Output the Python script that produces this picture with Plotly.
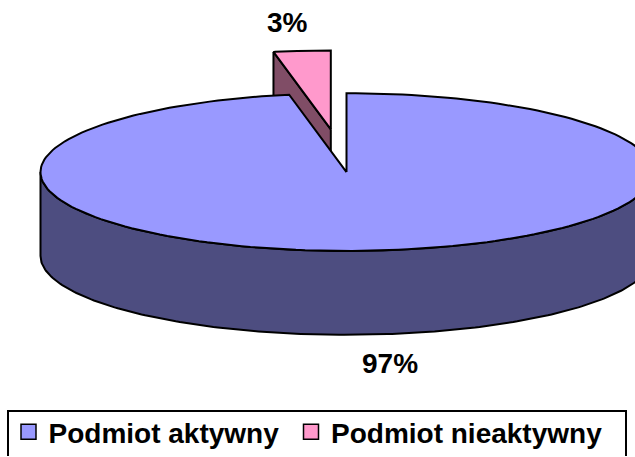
import numpy as np
import plotly.graph_objects as go

# ---- data ----
categories = ["Podmiot aktywny", "Podmiot nieaktywny"]
values = [97, 3]
label_texts = ["97%", "3%"]

# ---- style ----
top_colors = ["#9999FF", "#FF99CC"]
side_colors = ["#4D4D80", "#804D66"]
explode = [0.0, 0.545]
legend_x_px = [8.5, 291]   # left edge of each legend entry

W, H = 635, 457
CX, CY = 346.5, 172.5      # centre of pie top (pixels)
A, B = 306.0, 79.0         # ellipse semi-axes
DEPTH = 84.0               # thickness of the pie
LPAD_X, LPAD_Y = 155.0, 29.0
FONT = "Liberation Sans, Arial, sans-serif"

total = float(sum(values))


def pt(theta, cx, cy, r=1.0, z=0.0):
    return cx + r * A * np.cos(theta), cy - r * B * np.sin(theta) + z


def arc(t0, t1, cx, cy, z=0.0, n=200):
    th = np.linspace(t0, t1, n)
    xs, ys = pt(th, cx, cy, 1.0, z)
    return list(xs), list(ys)


# slices: first starts at 12 o'clock, clockwise
slices = []
start = np.pi / 2
for i, v in enumerate(values):
    sweep = 2 * np.pi * v / total
    end = start - sweep
    mid = (start + end) / 2
    ox = explode[i] * A * np.cos(mid)
    oy = -explode[i] * B * np.sin(mid)
    slices.append(dict(i=i, s=start, e=end, mid=mid, cx=CX + ox, cy=CY + oy))
    start = end

fig = go.Figure()
line = dict(color="black", width=2)


def poly(xs, ys, color):
    fig.add_trace(go.Scatter(x=xs + [xs[0]], y=ys + [ys[0]], mode="lines",
                             fill="toself", fillcolor=color, line=line,
                             hoverinfo="skip", showlegend=False))


# draw back slices first (the ones whose centre is higher on screen)
for sl in sorted(slices, key=lambda d: d["cy"]):
    i, s, e, cx, cy = sl["i"], sl["s"], sl["e"], sl["cx"], sl["cy"]
    # cut faces
    for ang, normal in ((s, s + np.pi / 2), (e, e - np.pi / 2)):
        if np.sin(normal) < -1e-6:
            x0, y0 = cx, cy
            x1, y1 = pt(ang, cx, cy)
            poly([x0, x1, x1, x0], [y0, y1, y1 + DEPTH, y0 + DEPTH], side_colors[i])
    # outer side wall (front half only)
    for k in range(-2, 3):
        lo = np.pi + 2 * np.pi * k
        hi = 2 * np.pi + 2 * np.pi * k
        a0, a1 = max(lo, e), min(hi, s)
        if a1 > a0:
            xt, yt = arc(a1, a0, cx, cy)
            xb, yb = arc(a0, a1, cx, cy, DEPTH)
            poly(xt + xb, yt + yb, side_colors[i])
    # top face
    xa, ya = arc(s, e, cx, cy)
    poly([cx] + xa, [cy] + ya, top_colors[i])

# labels
for sl in slices:
    mid = sl["mid"]
    x, y = pt(mid, sl["cx"], sl["cy"])
    if np.sin(mid) < 0:
        y += DEPTH
    x += LPAD_X * np.cos(mid)
    y -= LPAD_Y * np.sin(mid)
    fig.add_annotation(x=x, y=y, xref="x", yref="y", text=label_texts[sl["i"]],
                       showarrow=False, xanchor="center", yanchor="middle",
                       font=dict(family=FONT, size=28, color="black", weight="bold"))

# legend entries (one legend per entry for exact spacing)
legend_names = ["legend", "legend2"]
for i, c in enumerate(categories):
    fig.add_trace(go.Scatter(x=[None], y=[None], mode="markers", name=c,
                             marker=dict(symbol="square", size=15, color=top_colors[i],
                                         line=dict(color="black", width=1.5)),
                             showlegend=True, legend=legend_names[i]))

# legend frame (bottom edge runs off the page, as in the original)
fig.add_shape(type="rect", xref="x", yref="y", x0=8, x1=626, y0=412, y1=H + 20,
              line=dict(color="black", width=2), fillcolor="rgba(0,0,0,0)", layer="above")

leg_common = dict(orientation="h", xanchor="left", y=-0.003, yanchor="bottom",
                  borderwidth=0, bgcolor="rgba(0,0,0,0)",
                  font=dict(family=FONT, size=28, color="black", weight="bold"),
                  itemsizing="trace")

fig.update_layout(
    width=W, height=H,
    margin=dict(l=0, r=0, t=0, b=0),
    paper_bgcolor="white", plot_bgcolor="white",
    xaxis=dict(range=[0, W], visible=False, fixedrange=True),
    yaxis=dict(range=[H, 0], visible=False, fixedrange=True),
    showlegend=True,
    legend=dict(x=legend_x_px[0] / W, **leg_common),
    legend2=dict(x=legend_x_px[1] / W, **leg_common),
)

fig.write_html("out.html", config={"displayModeBar": False},
               post_script="document.body.style.margin='0';document.body.style.overflow='hidden';")
